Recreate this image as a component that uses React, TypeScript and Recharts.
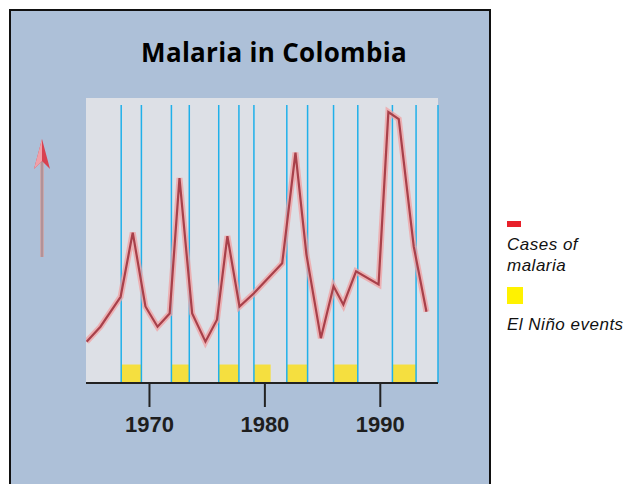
import { CartesianGrid, Line, LineChart, ReferenceArea, ReferenceLine, XAxis, YAxis } from 'recharts';

// malaria cases (arbitrary units), x in years
const caseYears = [
  1964.55, 1965.75, 1967.5, 1968.55, 1969.65, 1970.7, 1971.75, 1972.6, 1973.7, 1974.85,
  1975.85, 1976.75, 1977.8, 1979.05, 1981.5, 1982.65, 1983.6, 1984.85, 1985.95, 1986.8,
  1987.9, 1989.85, 1990.7, 1991.6, 1992.9, 1994.0,
];
const caseValues = [
  23.5, 32, 49, 85.5, 43.5, 32, 39.5, 116.5, 39.5, 23.5,
  36, 83.5, 43.5, 51, 68, 131, 73, 25.5, 55, 44.5,
  63.5, 56, 154, 150, 77.5, 40.5,
];

// El Niño events: start / end
const ninoStarts = [1967.55, 1971.9, 1976.0, 1979.05, 1981.9, 1985.95, 1991.05];
const ninoEnds = [1969.3, 1973.45, 1977.75, 1980.5, 1983.7, 1988.05, 1993.1];

// blue marker lines
const markerYears = [
  1967.55, 1969.3, 1971.9, 1973.45, 1976.0, 1977.75, 1979.05, 1981.9, 1983.7,
  1985.95, 1988.05, 1991.05, 1993.1, 1995.0,
];

const xTicks = [1970, 1980, 1990];
const yTicks = [0, 50, 100, 150];

const data = caseYears.map((year, i) => ({ year, cases: caseValues[i] }));

export default function App() {
  return (
    <div style={{ position: 'absolute', left: 0, top: 0, width: 638, height: 484, background: '#fff', overflow: 'hidden' }}>
      <div
        style={{
          position: 'absolute',
          left: 9,
          top: 9,
          width: 482,
          height: 500,
          boxSizing: 'border-box',
          border: '2.5px solid #111',
          background: '#adc0d8',
        }}
      />
      <svg width={638} height={484} style={{ position: 'absolute', left: 0, top: 0 }}>
        <text x={274} y={62} textAnchor="middle" fontFamily="'Open Sans'" fontWeight={700} fontSize={26} letterSpacing={0.3} fill="#000">
          Malaria in Colombia
        </text>
        {/* arrow on the left */}
        <line x1={42} y1={160} x2={42} y2={257} stroke="#c8a8ac" strokeWidth={4} />
        <line x1={42} y1={160} x2={42} y2={257} stroke="#9c7c84" strokeWidth={1} />
        <polygon points="42,139 34,169 42,161 50,169" fill="#d8414f" />
        <polygon points="42,139 34,169 42,161" fill="#f0a0a8" />
        {/* legend */}
        <rect x={507} y={221} width={14} height={6} fill="#e8202a" />
        <text x={507} y={250} fontFamily="'Liberation Sans'" fontStyle="italic" fontSize={17} letterSpacing={0.5} fill="#111">Cases of</text>
        <text x={507} y={271} fontFamily="'Liberation Sans'" fontStyle="italic" fontSize={17} letterSpacing={0.5} fill="#111">malaria</text>
        <rect x={507} y={287} width={16} height={17} fill="#fff200" />
        <text x={507} y={330} fontFamily="'Liberation Sans'" fontStyle="italic" fontSize={17} letterSpacing={0.5} fill="#111">El Niño events</text>
      </svg>
      <div style={{ position: 'absolute', left: 0, top: 0 }}>
        <LineChart width={500} height={484} data={data} margin={{ top: 98, right: 62, left: 72, bottom: 41 }}>
          <CartesianGrid fill="#dde0e6" stroke="none" />
          <XAxis
            type="number"
            dataKey="year"
            domain={[1964.5, 1995]}
            ticks={xTicks}
            allowDataOverflow
            height={60}
            tickSize={24}
            tickMargin={9}
            axisLine={{ stroke: '#222', strokeWidth: 2 }}
            tickLine={{ stroke: '#222', strokeWidth: 2 }}
            tick={{ fill: '#1e1e1e', fontSize: 22, fontWeight: 700, fontFamily: "'Liberation Sans'" }}
          />
          <YAxis
            type="number"
            domain={[0, 162]}
            ticks={yTicks}
            allowDataOverflow
            width={14}
            tick={false}
            tickSize={12}
            axisLine={false}
            tickLine={{ stroke: '#f4f6fa', strokeWidth: 2 }}
          />
          {ninoStarts.map((s, i) => (
            <ReferenceArea key={'n' + i} x1={s} x2={ninoEnds[i]} y1={0} y2={10.5} fill="#f7df2c" fillOpacity={0.9} stroke="none" />
          ))}
          {markerYears.map((x) => (
            <ReferenceLine
              key={'m' + x}
              segment={[{ x, y: 0 }, { x, y: 158 }]}
              stroke="#1fb0ea"
              strokeWidth={1.5}
            />
          ))}
          <Line type="linear" dataKey="cases" stroke="#f0a0a2" strokeOpacity={0.75} strokeWidth={6} dot={false} isAnimationActive={false} />
          <Line type="linear" dataKey="cases" stroke="#a8404a" strokeWidth={2.2} dot={false} isAnimationActive={false} />
        </LineChart>
      </div>
    </div>
  );
}
